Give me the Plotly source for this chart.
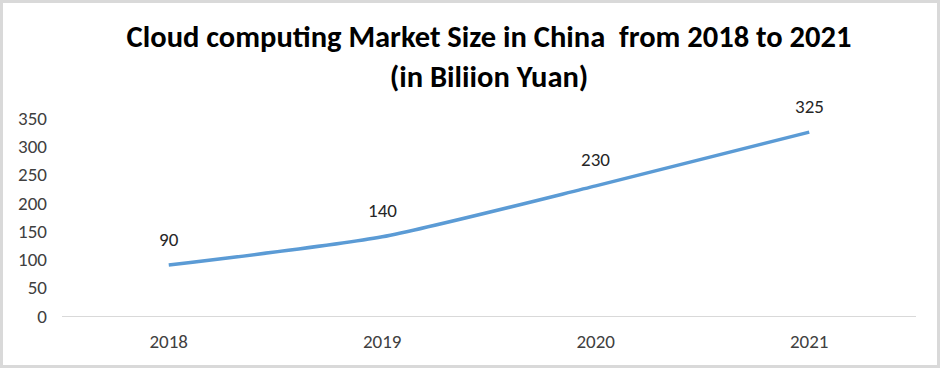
import plotly.graph_objects as go

years = ["2018", "2019", "2020", "2021"]
market_size = [90, 140, 230, 325]
label_text = ["90", "140", "230", "325"]
y_ticks = [0, 50, 100, 150, 200, 250, 300, 350]

W, H = 940, 368
L, R, T, B = 62, 24, 118, 52
pw, ph = W - L - R, H - T - B
FONT = "Carlito, Calibri, Lato, sans-serif"

fig = go.Figure()
fig.add_trace(go.Scatter(
    x=years, y=market_size, mode="lines",
    line=dict(color="#5B9BD5", width=3.5, shape="spline", smoothing=0.6),
    hoverinfo="x+y", showlegend=False,
))

for i, (yv, t) in enumerate(zip(market_size, label_text)):
    fig.add_annotation(x=i, y=yv, text=t, showarrow=False, yshift=26,
                       font=dict(size=19, color="#262626", family=FONT))

# chart frame
fig.add_shape(type="rect", xref="paper", yref="paper",
              x0=(1.5 - L) / pw, x1=(W - 1.5 - L) / pw,
              y0=(T + ph - (H - 1.5)) / ph, y1=(T + ph - 1.5) / ph,
              line=dict(color="#D9D9D9", width=3), fillcolor="rgba(0,0,0,0)", layer="below")

fig.update_layout(
    width=W, height=H,
    margin=dict(l=L, r=R, t=T, b=B),
    paper_bgcolor="white", plot_bgcolor="white",
    title=dict(
        text="<b>Cloud computing Market Size in China  from 2018 to 2021<br>(in Biliion Yuan)</b>",
        x=(L + pw / 2) / W, xanchor="center", y=1 - 47 / H, yanchor="middle",
        font=dict(size=30.5, color="#000000", family=FONT),
    ),
    xaxis=dict(
        type="category", showgrid=False, showline=True, linecolor="#D9D9D9", linewidth=1,
        ticks="", ticklabelstandoff=8,
        tickfont=dict(size=19, color="#404040", family=FONT),
        range=[-0.5, 3.5], fixedrange=True,
    ),
    yaxis=dict(
        range=[0, 350], tickvals=y_ticks, showgrid=False, zeroline=False, showline=False,
        ticks="", ticklabelstandoff=14,
        tickfont=dict(size=19, color="#404040", family=FONT),
        fixedrange=True,
    ),
)

fig.write_html("out.html", config={"displayModeBar": False},
               post_script="document.body.style.margin='0';")
